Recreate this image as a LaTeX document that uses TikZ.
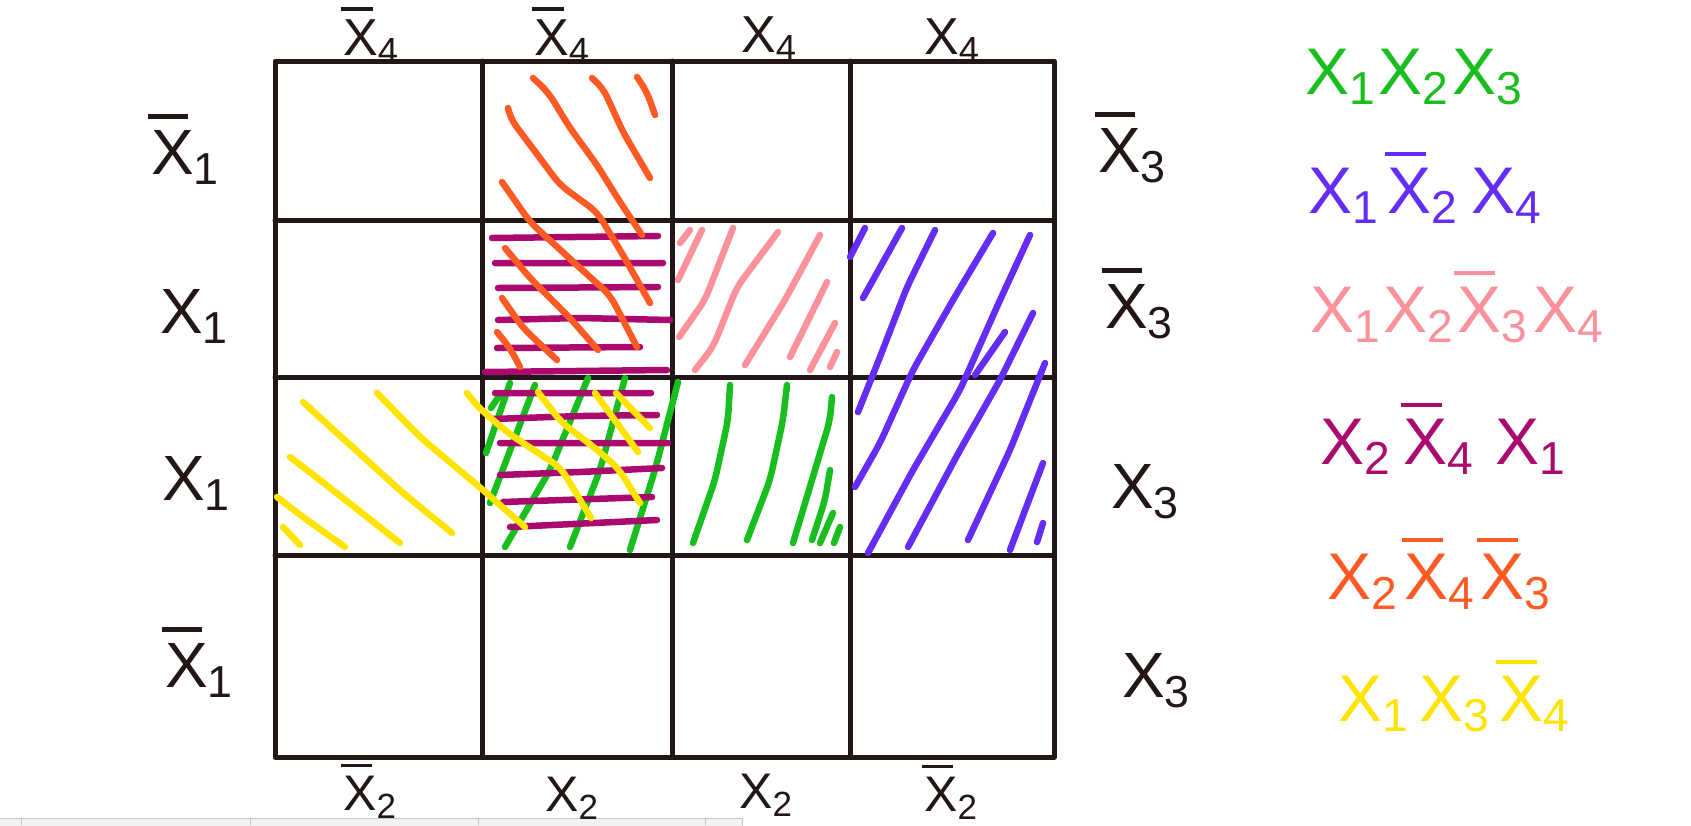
\documentclass[tikz,border=0pt]{standalone}
\usepackage{fontspec}
\usepackage{graphicx}
\setmainfont{Liberation Sans}
\definecolor{ink}{RGB}{35,22,22}
\definecolor{kgrn}{RGB}{24,190,30}
\definecolor{kblu}{RGB}{100,45,245}
\definecolor{kpnk}{RGB}{250,145,155}
\definecolor{kmag}{RGB}{170,10,110}
\definecolor{kor}{RGB}{255,90,35}
\definecolor{kyel}{RGB}{255,228,0}
\newcommand{\lsub}[1]{\raisebox{-0.16em}{\scalebox{0.7}{#1}}}
\newcommand{\lit}[1]{X\lsub{#1}}
\newcommand{\nlit}[1]{\rlap{\kern-0.05em\rule[0.86em]{0.62em}{0.07em}}X\lsub{#1}}
\begin{document}
\begin{tikzpicture}[x=1pt,y=-1pt,line cap=round,line join=round,
  lab/.style={anchor=west,inner sep=0pt,text=ink},
  sm/.style={lab,font=\fontsize{52}{60}\selectfont,text height=50pt,text depth=13pt},
  sb/.style={lab,font=\fontsize{50}{58}\selectfont,text height=42pt,text depth=8pt},
  md/.style={lab,font=\fontsize{64}{72}\selectfont,text height=62pt,text depth=16pt},
  lg/.style={lab,font=\fontsize{66}{74}\selectfont,text height=64pt,text depth=16pt},
  grid/.style={draw=ink,line width=5pt},hatch/.style={line width=6.5pt,rounded corners=10pt}]
\useasboundingbox (0,0) rectangle (1691,825);
% screen scrollbar
\draw[gray!45,fill=gray!10,line width=1pt] (-2,818) rectangle (742,830);
\foreach \sx in {21,250,478,705}{\draw[gray!45,line width=1pt] (\sx,818)--(\sx,825);}
% grid
\draw[grid] (275,61) rectangle (1054,757);
\foreach \gx in {482,672,850}{\draw[grid] (\gx,61)--(\gx,757);}
\foreach \gy in {220,377,555}{\draw[grid] (275,\gy)--(1054,\gy);}
% x1 x2 x3
\draw[hatch,kgrn] (491,408)--(501,393) (486,453)--(510,383) (490,503)--(535,385) (505,547)--(550,470)--(588,378)
  (570,547)--(600,470)--(625,378) (630,550)--(655,470)--(678,382)
  (693,543)--(715,480)--(728,420)--(730,385) (747,540)--(770,480)--(783,420)--(787,385)
  (793,543)--(815,470)--(830,420)--(832,397) (812,540)--(825,500)--(830,470) (820,543)--(833,513) (834,543)--(840,527);
% x1 !x2 x4
\draw[hatch,kblu] (850,257)--(865,228) (863,298)--(902,228) (858,412)--(880,357)--(907,287)--(935,230)
  (855,487)--(880,443)--(913,370)--(953,300)--(993,233) (868,553)--(913,470)--(960,390)--(1000,300)--(1030,235)
  (908,547)--(960,450)--(1000,380)--(1033,313) (975,375)--(1005,332) (968,540)--(1010,450)--(1045,363)
  (1010,550)--(1043,463) (1037,542)--(1043,523);
% x1 x2 !x3 x4
\draw[hatch,kpnk] (680,243)--(690,230) (678,280)--(702,230) (679,337)--(705,300)--(733,228)
  (695,370)--(713,347)--(737,287)--(778,232) (745,365)--(785,300)--(820,235) (790,357)--(827,282)
  (810,370)--(835,323) (830,367)--(837,352);
% x2 !x4 x1
\draw[hatch,kmag] (492,238)--(658,236) (495,263)--(663,263) (498,288)--(658,287) (498,320)--(580,318)--(670,320)
  (497,348)--(640,347) (485,372)--(667,370) (495,393)--(651,393) (493,419)--(580,416)--(657,415)
  (500,443)--(668,443) (500,475)--(580,472)--(662,468) (503,502)--(652,497) (510,527)--(657,520);
% x2 !x4 !x3
\draw[hatch,kor] (533,78)--(548,92)--(570,128)--(597,165)--(620,202)--(642,235)
  (592,78)--(603,88)--(623,132)--(650,178) (637,77)--(647,92)--(655,115)
  (508,108)--(510,118)--(560,185)--(597,212)--(623,255)--(650,303)
  (502,182)--(530,222)--(580,268)--(610,295)--(637,347) (505,248)--(530,278)--(570,318)--(598,350)
  (502,298)--(523,328)--(557,360) (497,332)--(510,348)--(520,367);
% x1 x3 !x4
\draw[hatch,kyel] (303,402)--(337,433)--(403,493)--(452,533) (377,393)--(420,437)--(483,490)--(525,527)
  (290,457)--(320,480)--(400,543) (277,497)--(303,517)--(345,547) (283,527)--(300,545)
  (467,393)--(478,407)--(508,433)--(561,468)--(591,518) (538,392)--(561,422)--(595,448)--(618,468)--(640,503)
  (595,393)--(638,452) (616,393)--(650,428);
% labels
\node[sm] (t1) at (343,37){\nlit4};\node[sm] (t2) at (534,37){\nlit4};\node[sm] (t3) at (741,34){\lit4};\node[sm] (t4) at (924,36){\lit4};
\node[sb] (b1) at (343,793){\nlit2};\node[sb] (b2) at (545,794){\lit2};\node[sb] (b3) at (739,791){\lit2};\node[sb] (b4) at (924,794){\nlit2};
\node[md] (l1) at (151,151){\nlit1};\node[md] (l2) at (160,310){\lit1};\node[md] (l3) at (162,477){\lit1};\node[md] (l4) at (165,664){\nlit1};
\node[md] (r1) at (1098,149){\nlit3};\node[md] (r2) at (1105,305){\nlit3};\node[md] (r3) at (1111,485){\lit3};\node[md] (r4) at (1122,674){\lit3};
% legend
\node[lg,text=kgrn] (k1) at (1305,70){\lit1\hspace{4pt}\lit2\hspace{4pt}\lit3};
\node[lg,text=kblu] (k2) at (1308,189){\lit1\hspace{10pt}\nlit2\hspace{14pt}\lit4};
\node[lg,text=kpnk] (k3) at (1310,308){\lit1\hspace{4pt}\lit2\hspace{4pt}\nlit3\hspace{6pt}\lit4};
\node[lg,text=kmag] (k4) at (1320,440){\lit2\hspace{14pt}\nlit4\hspace{22pt}\lit1};
\node[lg,text=kor] (k5) at (1327,575){\lit2\hspace{8pt}\nlit4\hspace{6pt}\nlit3};
\node[lg,text=kyel] (k6) at (1338,697){\lit1\hspace{12pt}\lit3\hspace{10pt}\nlit4};
\end{tikzpicture}
\end{document}
